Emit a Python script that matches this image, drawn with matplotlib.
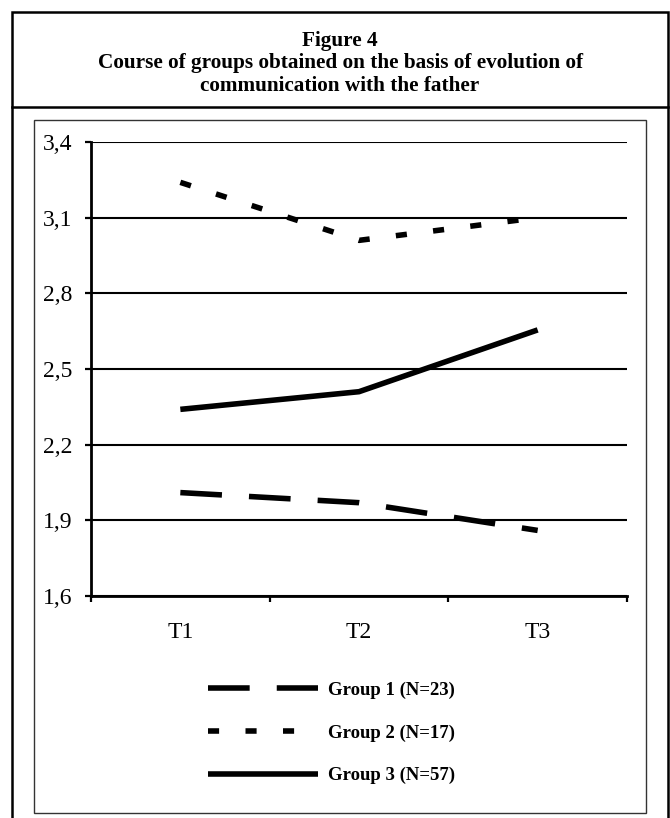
import matplotlib.pyplot as plt
from matplotlib.lines import Line2D
from matplotlib.patches import Rectangle

plt.rcParams['font.family'] = ['Liberation Serif', 'DejaVu Serif']
plt.rcParams['lines.scale_dashes'] = False

W, H = 670, 818

times = ['T1', 'T2', 'T3']
group1 = [2.01, 1.97, 1.86]
group2 = [3.24, 3.01, 3.10]
group3 = [2.34, 2.41, 2.655]
labels = ['Group 1 (N=23)', 'Group 2 (N=17)', 'Group 3 (N=57)']
y_ticks = [1.6, 1.9, 2.2, 2.5, 2.8, 3.1, 3.4]
y_labels = ['1,6', '1,9', '2,2', '2,5', '2,8', '3,1', '3,4']
title_lines = ['Figure 4',
               'Course of groups obtained on the basis of evolution of',
               'communication with the father']


def fx(px):
    return px / W


def fy(py):
    return 1 - py / H


fig = plt.figure(figsize=(W / 100, H / 100), dpi=100)

# frames around title and chart
fig.add_artist(Rectangle((fx(12), fy(830)), fx(668) - fx(12), fy(12) - fy(830),
                         transform=fig.transFigure, fill=False, lw=1.8, ec='black'))
fig.add_artist(Line2D([fx(12), fx(668)], [fy(107), fy(107)],
                      transform=fig.transFigure, lw=1.8, color='black'))
fig.add_artist(Rectangle((fx(34), fy(813)), fx(646) - fx(34), fy(120) - fy(813),
                         transform=fig.transFigure, fill=False, lw=1.0, ec='#333333'))

for line, py in zip(title_lines, [41, 63, 86]):
    fig.text(fx(340), fy(py), line, ha='center', va='center',
             fontsize=15.3, fontweight='bold')

ax = fig.add_axes([fx(91), fy(596), fx(627) - fx(91), fy(142) - fy(596)])
x = range(len(times))

ax.plot(x, group1, color='black', lw=4, linestyle=(0, (30, 19.5)),
        solid_capstyle='butt', dash_capstyle='butt', label=labels[0])
ax.plot(x, group2, color='black', lw=4, linestyle=(0, (8, 19)),
        solid_capstyle='butt', dash_capstyle='butt', label=labels[1])
ax.plot(x, group3, color='black', lw=4, solid_capstyle='butt', label=labels[2])

ax.set_xlim(-0.5, 2.5)
ax.set_ylim(1.6, 3.4)
ax.set_xticks(list(x))
ax.set_xticklabels(times, fontsize=17)
ax.set_xticks([-0.5, 0.5, 1.5, 2.5], minor=True)
ax.tick_params(axis='x', which='major', length=0, pad=18.5)
ax.tick_params(axis='x', which='minor', length=4.5, width=1.6, direction='out')
ax.set_yticks(y_ticks)
ax.set_yticklabels(y_labels, fontsize=17)
ax.tick_params(axis='y', length=4.5, width=1.6, pad=9)

ax.yaxis.grid(True, color='black', lw=1.5)
ax.set_axisbelow(True)
for side in ['top', 'right']:
    ax.spines[side].set_visible(False)
for side in ['left', 'bottom']:
    ax.spines[side].set_linewidth(2)

handles, _ = ax.get_legend_handles_labels()
fig.legend(handles, labels, loc='center left',
           bbox_to_anchor=(fx(208), fy(733)), frameon=False,
           prop={'weight': 'bold', 'size': 13.5}, handlelength=5.85,
           handletextpad=0.55, labelspacing=1.35, borderpad=0, borderaxespad=0)

fig.savefig('out.png', dpi=100)
